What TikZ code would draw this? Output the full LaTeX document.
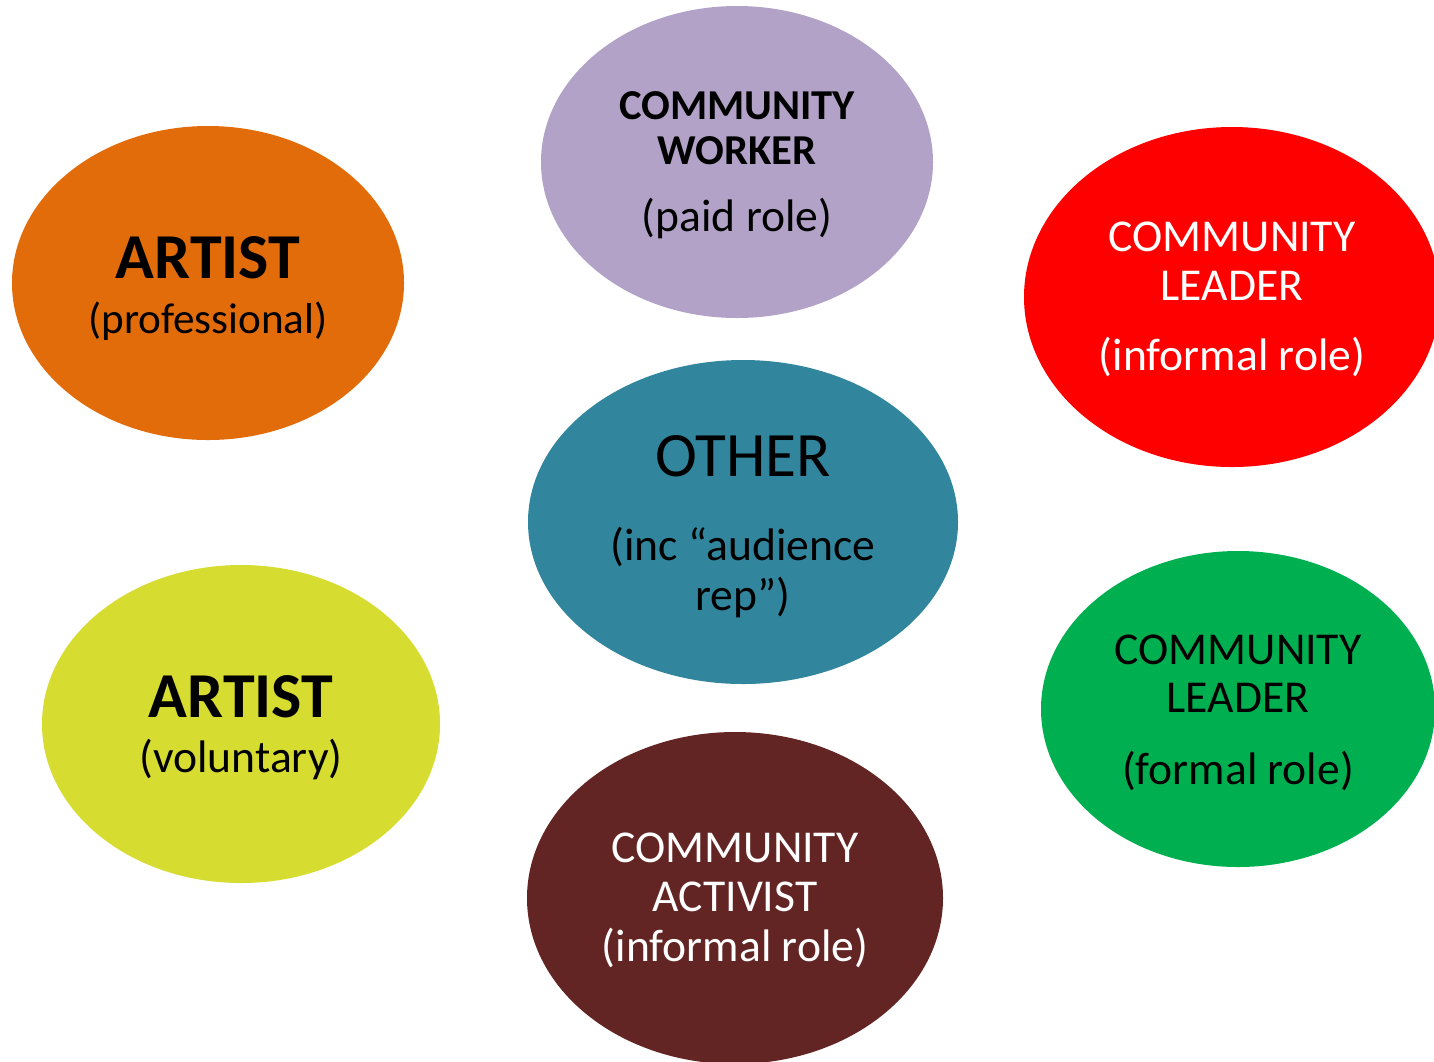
\documentclass[tikz,border=0pt]{standalone}
\usepackage{fontspec}
\setmainfont{Carlito}
\usetikzlibrary{shapes.geometric}

\definecolor{artistorange}{HTML}{E36C0A}
\definecolor{workerlilac}{HTML}{B2A2C7}
\definecolor{leaderred}{HTML}{FF0000}
\definecolor{otherteal}{HTML}{31859C}
\definecolor{artistlime}{HTML}{D7DC31}
\definecolor{leadergreen}{HTML}{00B050}
\definecolor{activistbrown}{HTML}{632523}

\tikzset{
  role/.style={ellipse, inner sep=0pt},
  radii/.style 2 args={minimum width=#1bp, minimum height=#2bp},
  roletext/.style={align=center, inner sep=0pt, text=black,
    font=\fontsize{22.8bp}{24.5bp}\selectfont},
}

\newcommand{\bigbold}[1]{{\fontsize{32bp}{32bp}\selectfont\bfseries #1}}
\newcommand{\midbold}[1]{{\fontsize{21.3bp}{22.5bp}\selectfont\bfseries #1}}

\begin{document}
\begin{tikzpicture}[x=0.5bp, y=-0.5bp]

% page, in pixels of the original slide
\useasboundingbox (0,0) rectangle (1434,1061);

% top row
\node [role, fill=artistorange, radii={196}{157},
  label={[roletext, yshift=-2.5bp]center:\bigbold{ARTIST}\\[3bp]{\fontsize{21.6bp}{24.5bp}\selectfont(professional)}}]
  (artpro) at (208,283) {};
\node [role, fill=workerlilac, radii={196}{156},
  label={[roletext, yshift=-1.6bp]center:\midbold{COMMUNITY}\\[-2bp]\midbold{WORKER}\\[9.25bp](paid role)}]
  (worker) at (737,162) {};
\node [role, fill=leaderred, radii={208}{170},
  label={[roletext, text=white, yshift=-1.25bp]center:COMMUNITY\\LEADER\\[10.5bp](informal role)}]
  (leadinf) at (1232,297) {};

% middle
\node [role, fill=otherteal, radii={215}{162},
  label={[roletext, yshift=-2.25bp]center:{\fontsize{31.6bp}{31.6bp}\selectfont OTHER}\\[17.5bp](inc “audience\\[0.5bp]rep”)}]
  (other) at (743,522) {};

% bottom row
\node [role, fill=artistlime, radii={199}{159},
  label={[roletext, yshift=-2bp]center:\bigbold{ARTIST}\\[3bp](voluntary)}]
  (artvol) at (241,724) {};
\node [role, fill=leadergreen, radii={197}{158},
  label={[roletext, yshift=-1.75bp]center:COMMUNITY\\[-0.5bp]LEADER\\[11.5bp](formal role)}]
  (leadfor) at (1238,709) {};
\node [role, fill=activistbrown, radii={208}{166},
  label={[roletext, text=white, yshift=-1.25bp]center:COMMUNITY\\ACTIVIST\\[0.5bp](informal role)}]
  (activist) at (735,898) {};

\end{tikzpicture}
\end{document}
